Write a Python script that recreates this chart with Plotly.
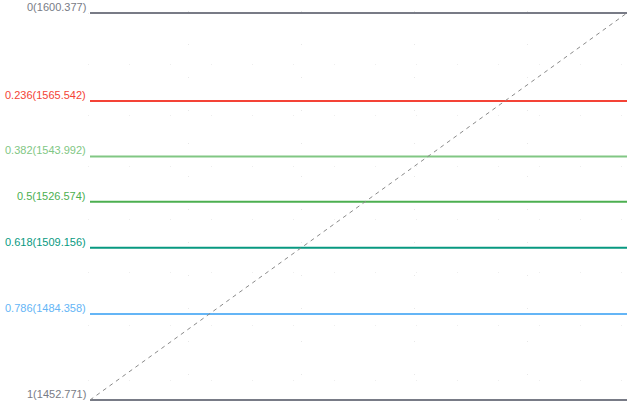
import math
import plotly.graph_objects as go

levels = [0, 0.236, 0.382, 0.5, 0.618, 0.786, 1]
prices = [1600.377, 1565.542, 1543.992, 1526.574, 1509.156, 1484.358, 1452.771]
labels = ["0(1600.377)", "0.236(1565.542)", "0.382(1543.992)", "0.5(1526.574)",
          "0.618(1509.156)", "0.786(1484.358)", "1(1452.771)"]
colors = ["#787b86", "#f44336", "#81c784", "#4caf50", "#089981", "#64b5f6", "#787b86"]
x_start, x_end = 0, 1

W, H = 631, 404
ml, mr, mt, mb = 88, 2, 11, 2
px_left, px_right = 90, 627
py_top, py_bot = 13, 400

L0 = math.log10(max(prices))
L1 = math.log10(min(prices))
k = (L0 - L1) / (py_bot - py_top)
yr = [L1 - (H - mb - py_bot) * k, L0 + (py_top - mt) * k]
kx = (x_end - x_start) / (px_right - px_left)
xr = [x_start - (px_left - ml) * kx, x_end + (W - mr - px_right) * kx]

fig = go.Figure()
for p, c in zip(prices, colors):
    fig.add_trace(go.Scatter(x=[x_start, x_end], y=[p, p], mode="lines",
                             line=dict(color=c, width=2), hoverinfo="skip"))
fig.add_trace(go.Scatter(x=[x_start, x_end], y=[min(prices), max(prices)], mode="lines",
                         line=dict(color="#8a8a8a", width=1, dash="4px,4px"), hoverinfo="skip"))

for p, t, c in zip(prices, labels, colors):
    fig.add_annotation(x=x_start, y=math.log10(p), xref="x", yref="y", text=t,
                       showarrow=False, xanchor="right", yanchor="bottom",
                       xshift=-2, yshift=-2,
                       font=dict(family="Liberation Sans, Arial, sans-serif", size=11, color=c))

fig.update_layout(
    width=W, height=H, margin=dict(l=ml, r=mr, t=mt, b=mb),
    paper_bgcolor="white", plot_bgcolor="white", showlegend=False, hovermode=False,
    xaxis=dict(range=xr, showticklabels=False, zeroline=False, showline=False,
               showgrid=True, gridcolor="#e8e8e8", griddash="1px,32px", gridwidth=1,
               tick0=0.184, dtick=0.21),
    yaxis=dict(type="log", range=yr, showticklabels=False, zeroline=False, showline=False,
               showgrid=True, gridcolor="#eeeeee", griddash="1px,40px", gridwidth=1,
               tick0=1460, dtick="L20"),
)
fig.write_html("out.html", config={"staticPlot": True},
               post_script="document.body.style.margin='0';document.body.style.padding='0';")
